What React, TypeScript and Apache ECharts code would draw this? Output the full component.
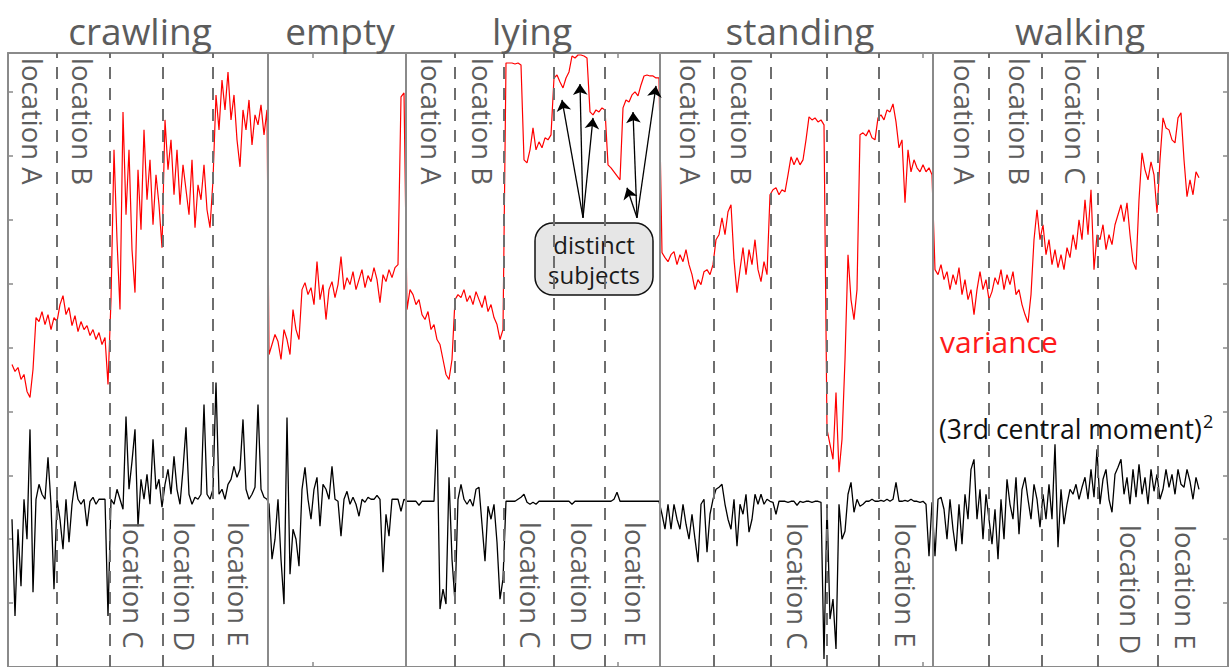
import React, { useEffect, useRef } from "react";
import * as echarts from "echarts";

// activity sections on the time axis
const activities = ["crawling", "empty", "lying", "standing", "walking"];
const sectionSpans = [
  [4, 259],
  [261, 396],
  [399, 651],
  [654, 924],
  [927, 1191],
];
const sectionDividers = [260, 398, 652, 925];
const locationBoundaries = [49, 102, 155, 205, 447, 496, 546, 597, 706, 763, 819, 871, 981, 1034, 1090, 1150];

// variance (red)
const varianceCrawling = [303, 296, 300, 288, 293, 276, 270, 298, 350, 346, 356, 343, 353, 338, 350, 346, 363, 372, 353, 360, 342, 352, 336, 346, 338, 342, 332, 338, 328, 335, 323, 330, 283, 368, 518, 428, 358, 556, 453, 518, 418, 375, 498, 438, 538, 468, 508, 443, 493, 463, 420, 548, 498, 528, 473, 518, 463, 503, 478, 453, 508, 440, 483, 468, 503, 458, 440, 488, 573, 538, 588, 558, 596, 548, 573, 528, 501, 558, 538, 568, 523, 553, 543, 563, 533, 558];
const varianceEmpty = [313, 323, 333, 326, 308, 338, 328, 313, 358, 338, 328, 378, 385, 373, 380, 363, 406, 368, 383, 348, 378, 386, 370, 383, 411, 378, 390, 383, 396, 378, 388, 398, 380, 392, 386, 400, 388, 365, 393, 386, 398, 390, 400, 403, 571, 575];
const varianceLying = [358, 378, 373, 363, 368, 353, 348, 356, 338, 343, 328, 323, 308, 293, 288, 308, 368, 373, 370, 378, 366, 372, 363, 376, 368, 360, 372, 356, 363, 350, 343, 328, 338, 605, 605, 605, 604, 605, 603, 508, 505, 518, 540, 518, 526, 520, 530, 528, 533, 590, 593, 586, 580, 590, 596, 612, 610, 613, 613, 612, 610, 556, 553, 558, 556, 560, 558, 503, 500, 496, 492, 488, 560, 568, 566, 573, 576, 572, 583, 592, 593, 592, 592, 590, 590];
const varianceStanding = [415, 410, 406, 413, 416, 403, 413, 406, 418, 403, 393, 378, 388, 383, 396, 398, 393, 403, 428, 433, 450, 433, 456, 463, 408, 375, 398, 420, 393, 418, 403, 428, 398, 386, 406, 393, 473, 478, 480, 473, 478, 476, 493, 511, 503, 510, 503, 508, 528, 551, 548, 550, 546, 548, 543, 238, 223, 208, 275, 195, 228, 308, 413, 368, 348, 378, 533, 535, 532, 538, 530, 528, 550, 553, 548, 558, 556, 564, 546, 520, 528, 465, 518, 496, 508, 500, 496, 503, 496, 500, 493];
const varianceWalking = [398, 393, 403, 388, 396, 378, 393, 383, 400, 373, 388, 368, 378, 353, 378, 396, 378, 388, 368, 376, 390, 383, 398, 378, 393, 383, 396, 373, 378, 363, 353, 345, 373, 428, 458, 428, 443, 413, 428, 403, 418, 400, 413, 398, 420, 410, 433, 418, 448, 428, 468, 433, 478, 398, 433, 428, 443, 418, 433, 423, 443, 453, 463, 446, 465, 433, 406, 398, 468, 515, 498, 488, 506, 493, 455, 508, 550, 540, 538, 528, 525, 550, 555, 508, 471, 488, 473, 496, 490];

// (3rd central moment)^2 (black)
const momentCrawling = [148, 51, 138, 81, 168, 128, 238, 75, 168, 183, 173, 168, 210, 163, 78, 168, 148, 118, 168, 125, 163, 186, 168, 163, 168, 141, 166, 170, 163, 168, 168, 168, 51, 168, 163, 178, 168, 158, 251, 178, 206, 238, 141, 188, 168, 193, 163, 228, 178, 188, 160, 183, 198, 173, 211, 178, 163, 198, 240, 173, 163, 170, 168, 173, 263, 173, 168, 178, 285, 173, 178, 168, 183, 188, 201, 190, 198, 248, 178, 168, 173, 180, 263, 178, 170, 168];
const momentEmpty = [163, 108, 128, 168, 108, 63, 250, 93, 138, 128, 101, 178, 200, 168, 148, 178, 190, 141, 183, 178, 168, 201, 168, 166, 131, 168, 176, 163, 170, 163, 151, 168, 165, 170, 168, 168, 172, 168, 95, 153, 131, 168, 168, 168, 156, 168];
const momentLying = [166, 166, 166, 166, 162, 166, 166, 166, 166, 166, 238, 58, 78, 63, 190, 108, 65, 168, 183, 168, 163, 168, 161, 178, 180, 143, 106, 161, 148, 163, 125, 68, 88, 166, 166, 166, 166, 168, 170, 173, 165, 163, 165, 163, 166, 166, 166, 166, 166, 166, 166, 166, 166, 166, 166, 163, 166, 166, 166, 166, 166, 166, 166, 166, 166, 166, 166, 166, 166, 168, 175, 166, 166, 166, 166, 166, 166, 166, 166, 166, 166, 166, 166, 166, 166];
const momentStanding = [153, 138, 163, 138, 163, 148, 138, 163, 143, 128, 153, 128, 105, 163, 168, 115, 153, 168, 178, 180, 183, 163, 148, 138, 168, 121, 163, 153, 173, 135, 148, 173, 163, 173, 163, 168, 166, 165, 153, 166, 166, 166, 165, 166, 166, 162, 166, 165, 166, 166, 165, 166, 166, 165, 8, 163, 48, 68, 18, 163, 128, 136, 173, 185, 155, 168, 161, 163, 166, 166, 168, 166, 166, 167, 166, 168, 166, 168, 185, 166, 166, 167, 166, 168, 166, 166, 165, 166, 163, 111, 165];
const momentWalking = [111, 168, 170, 158, 128, 168, 138, 116, 163, 123, 173, 148, 198, 208, 148, 178, 128, 173, 148, 123, 158, 108, 168, 128, 188, 163, 148, 190, 133, 178, 190, 168, 148, 183, 168, 140, 173, 148, 183, 148, 223, 120, 178, 143, 163, 178, 173, 183, 168, 180, 190, 168, 198, 170, 218, 163, 188, 198, 168, 155, 193, 200, 208, 173, 190, 163, 198, 170, 203, 173, 190, 163, 198, 176, 193, 168, 178, 198, 180, 193, 173, 198, 183, 180, 198, 186, 168, 190, 178];

// annotation arrows: from box to subject plateaus (data coordinates)
const arrowSources = [[575, 450], [629, 450]];
const arrowTargets = [
  [0, 554, 568],
  [0, 572, 584],
  [0, 585, 550],
  [1, 619, 480],
  [1, 625, 556],
  [1, 648, 582],
];

function build(arrays: number[][]) {
  const pts: number[][] = [];
  arrays.forEach((arr, s) => {
    const [a, b] = sectionSpans[s];
    const n = arr.length;
    arr.forEach((v, i) => pts.push([a + ((b - a) * i) / (n - 1), v]));
  });
  return pts;
}

const FONT = "'Open Sans', 'Noto Sans', sans-serif";
const GRAY_TEXT = "#5c5c5c";

const titlePos = [140, 340, 532, 800, 1080];
const labelSpecs: [string, number, number][] = [
  ["location A", 32, 58], ["location B", 82, 58],
  ["location C", 133, 522], ["location D", 184, 522], ["location E", 238, 522],
  ["location A", 431, 58], ["location B", 482, 58],
  ["location C", 530, 522], ["location D", 581, 522], ["location E", 635, 522],
  ["location A", 690, 58], ["location B", 741, 58],
  ["location C", 797, 523], ["location E", 905, 523],
  ["location A", 964, 58], ["location B", 1019, 58], ["location C", 1075, 58],
  ["location D", 1130, 525], ["location E", 1185, 525],
];

export default function App() {
  const ref = useRef<HTMLDivElement>(null);
  useEffect(() => {
    if (!ref.current) return;
    const chart = echarts.init(ref.current, undefined, { renderer: "svg" });

    const axisCommon = {
      type: "value" as const,
      axisLine: { show: true, onZero: false, lineStyle: { color: "#8a8a8a", width: 2 } },
      axisTick: { show: true, inside: true, length: 5, lineStyle: { color: "#8a8a8a", width: 1.5 } },
      axisLabel: { show: false },
      splitLine: { show: false },
    };

    const graphics: any[] = [];
    activities.forEach((t, i) => {
      graphics.push({
        type: "text",
        x: titlePos[i],
        y: 30,
        z: 50,
        style: { text: t, fill: GRAY_TEXT, fontSize: 37, fontFamily: FONT, align: "center", verticalAlign: "middle" },
      });
    });
    labelSpecs.forEach(([t, x, y]) => {
      graphics.push({
        type: "text",
        x,
        y,
        rotation: -Math.PI / 2,
        z: 50,
        style: { text: t, fill: GRAY_TEXT, fontSize: 27.5, fontFamily: FONT, align: "left", verticalAlign: "middle" },
      });
    });
    graphics.push({
      type: "text",
      x: 940,
      y: 341,
      z: 50,
      style: { text: "variance", fill: "#ff1a1a", fontSize: 30, fontFamily: FONT, align: "left", verticalAlign: "middle" },
    });
    graphics.push({
      type: "text",
      x: 939,
      y: 429,
      z: 50,
      style: { text: "(3rd central moment)", fill: "#111", fontSize: 26.5, fontFamily: FONT, align: "left", verticalAlign: "middle" },
    });
    graphics.push({
      type: "text",
      x: 1203,
      y: 421,
      z: 50,
      style: { text: "2", fill: "#111", fontSize: 18, fontFamily: FONT, align: "left", verticalAlign: "middle" },
    });
    graphics.push({
      type: "group",
      z: 60,
      children: [
        {
          type: "rect",
          shape: { x: 535, y: 223, width: 118, height: 72, r: 18 },
          style: { fill: "#e6e6e6", stroke: "#111", lineWidth: 1.5 },
        },
        {
          type: "text",
          x: 594,
          y: 259,
          style: {
            text: "distinct\nsubjects",
            fill: "#1a1a1a",
            fontSize: 24,
            lineHeight: 30,
            fontFamily: FONT,
            align: "center",
            verticalAlign: "middle",
          },
        },
      ],
    });

    const verticalLines = [
      ...locationBoundaries.map((v) => ({
        xAxis: v,
        lineStyle: { color: "#6e6e6e", width: 2, type: [12, 9] },
      })),
      ...sectionDividers.map((v) => ({
        xAxis: v,
        lineStyle: { color: "#8a8a8a", width: 2, type: "solid" },
      })),
    ];

    const arrows = arrowTargets.map(([s, x, y]) => [
      { coord: arrowSources[s] },
      { coord: [x, y] },
    ]);

    chart.setOption({
      animation: false,
      textStyle: { fontFamily: FONT },
      grid: { left: 8, top: 53, width: 1220, height: 615, containLabel: false },
      xAxis: [
        { ...axisCommon, min: 0, max: 1220, interval: 305, position: "top" },
        { ...axisCommon, min: 0, max: 1220, interval: 305, position: "bottom" },
      ],
      yAxis: [
        { ...axisCommon, min: 0, max: 615, interval: 64, position: "left" },
        { ...axisCommon, min: 0, max: 615, interval: 64, position: "right" },
      ],
      graphic: graphics,
      series: [
        {
          type: "line",
          name: "(3rd central moment)^2",
          data: build([momentCrawling, momentEmpty, momentLying, momentStanding, momentWalking]),
          showSymbol: false,
          lineStyle: { color: "#000", width: 1.3 },
          z: 3,
          silent: true,
          markLine: {
            silent: true,
            symbol: ["none", "none"],
            label: { show: false },
            emphasis: { disabled: true },
            data: verticalLines,
          },
        },
        {
          type: "line",
          name: "variance",
          data: build([varianceCrawling, varianceEmpty, varianceLying, varianceStanding, varianceWalking]),
          showSymbol: false,
          lineStyle: { color: "#ff0000", width: 1.2 },
          z: 4,
          silent: true,
          markLine: {
            silent: true,
            symbol: ["none", "arrow"],
            symbolSize: 11,
            label: { show: false },
            emphasis: { disabled: true },
            lineStyle: { color: "#000", width: 1.3, type: "solid" },
            data: arrows,
          },
        },
      ],
    });
    return () => chart.dispose();
  }, []);
  return (
    <div
      ref={ref}
      style={{ position: "absolute", left: 0, top: 0, width: 1229, height: 667, background: "#fff" }}
    />
  );
}
